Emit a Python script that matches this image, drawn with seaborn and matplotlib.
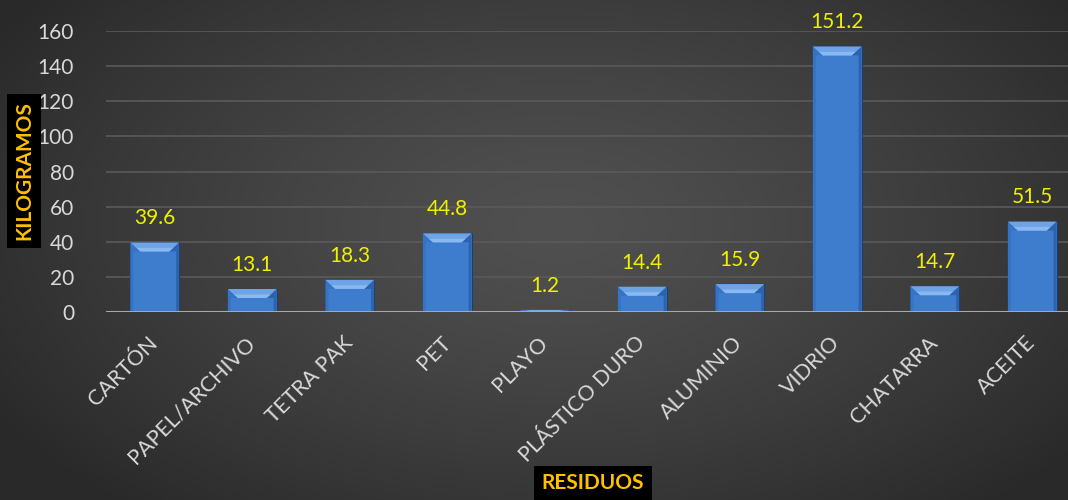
import numpy as np
import pandas as pd
import matplotlib
matplotlib.use("Agg")
import matplotlib.pyplot as plt
from matplotlib.patches import Polygon
import seaborn as sns

categories = ["CARTÓN", "PAPEL/ARCHIVO", "TETRA PAK", "PET", "PLAYO",
              "PLÁSTICO DURO", "ALUMINIO", "VIDRIO", "CHATARRA", "ACEITE"]
values = [39.6, 13.1, 18.3, 44.8, 1.2, 14.4, 15.9, 151.2, 14.7, 51.5]
yticks = [0, 20, 40, 60, 80, 100, 120, 140, 160]
y_title = "KILOGRAMOS"
x_title = "RESIDUOS"

sns.set_theme(style="dark")
plt.rcParams['font.family'] = ['Lato', 'DejaVu Sans']

W, H = 1068, 500
fig = plt.figure(figsize=(W / 100, H / 100), dpi=100)

# radial gradient background
bg = fig.add_axes([0, 0, 1, 1])
yy, xx = np.mgrid[0:H, 0:W]
cx, cy = W * 0.52, H * 0.45
r = np.sqrt(((xx - cx) / (W * 0.62)) ** 2 + ((yy - cy) / (H * 0.75)) ** 2)
r = np.clip(r, 0, 1)
light, dark = 0x50 / 255, 0x29 / 255
g = light + (dark - light) * r ** 1.3
img = np.dstack([g, g, g])
bg.imshow(img, aspect='auto', extent=[0, 1, 0, 1], origin='upper')
bg.set_axis_off()

ax = fig.add_axes([106 / W, 188 / H, (W - 106) / W, 281 / H])
ax.set_facecolor('none')
df = pd.DataFrame({"cat": categories, "val": values})
sns.barplot(data=df, x="cat", y="val", ax=ax, color="#3e7dce", width=0.5,
            saturation=1, edgecolor="#1d3f70", linewidth=0.8, zorder=3)

ax.set_ylim(0, 160)
ax.set_xlim(-0.5, -0.5 + (W - 106) / 97.5)
ax.set_yticks(yticks)
ax.set_yticklabels([str(t) for t in yticks], color="#d9d9d9", fontsize=15)
ax.tick_params(axis='y', length=0, pad=23)
ax.set_xticks(range(len(categories)))
ax.set_xticklabels(categories, rotation=45, ha='right', va='center',
                   rotation_mode='anchor', color="#d9d9d9", fontsize=15.5)
ax.tick_params(axis='x', length=0, pad=20)
ax.set_xlabel("")
ax.set_ylabel("")
ax.grid(axis='y', color="#5a5a5a", linewidth=1.2, zorder=0)
ax.grid(axis='x', visible=False)
for s in ax.spines.values():
    s.set_visible(False)
ax.axhline(0, color="#a8a8a8", linewidth=2.2, zorder=4)

# bevel effect derived from bar geometry
px_x = 1 / 97.5          # data x-units per pixel
px_y = 160 / 281         # data y-units per pixel
for p in ax.patches:
    x0, y0 = p.get_x(), p.get_y()
    w, h = p.get_width(), p.get_height()
    if h <= 0:
        continue
    bx = 10 * px_x
    by = min(h * 0.5, 9 * px_y)
    sx = 3 * px_x
    x1, y1 = x0 + w, y0 + h
    left = Polygon([[x0, y0], [x0, y1], [x0 + bx, y1 - by], [x0 + sx, y1 - by], [x0 + sx, y0]],
                   closed=True, facecolor="#3673c4", edgecolor='none', zorder=3.4)
    right = Polygon([[x1, y0], [x1, y1], [x1 - bx, y1 - by], [x1 - sx, y1 - by], [x1 - sx, y0]],
                    closed=True, facecolor="#2d63ad", edgecolor='none', zorder=3.4)
    top = Polygon([[x0, y1], [x1, y1], [x1 - bx, y1 - by], [x0 + bx, y1 - by]],
                  closed=True, facecolor="#6ea4e6", edgecolor='none', zorder=3.5)
    hl = Polygon([[x0 + bx, y1 - by], [x1 - bx, y1 - by],
                  [x1 - bx * 0.6, y1 - by * 0.6], [x0 + bx * 0.6, y1 - by * 0.6]],
                 closed=True, facecolor="#8ab8f0", edgecolor='none', zorder=3.6)
    for poly in (left, right, top, hl):
        ax.add_patch(poly)

for i, v in enumerate(values):
    ax.annotate(f"{v:.1f}", (i, v), xytext=(0, 13), textcoords='offset points',
                ha='center', va='baseline', color="#f0f000", fontsize=15, zorder=6)

fig.text(24 / W, 1 - 171 / H, y_title, rotation=90, ha='center', va='center',
         color="#ffc000", fontsize=15, fontweight='bold',
         bbox=dict(boxstyle='square,pad=0.35', facecolor='black', edgecolor='none'))
fig.text(593 / W, 1 - 483 / H, x_title, ha='center', va='center',
         color="#ffc000", fontsize=15, fontweight='bold',
         bbox=dict(boxstyle='square,pad=0.35', facecolor='black', edgecolor='none'))

fig.savefig("out.png", dpi=100)
